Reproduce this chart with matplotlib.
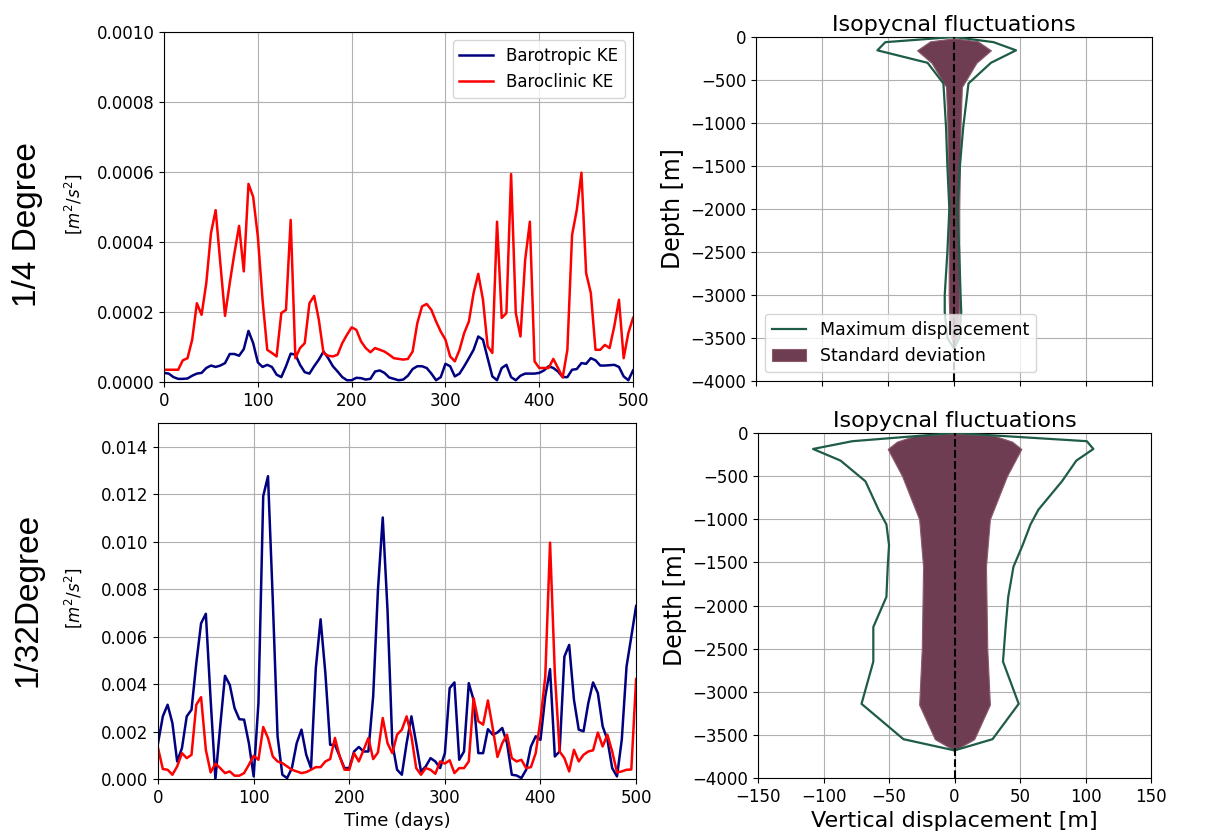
import numpy as np
import matplotlib
matplotlib.use('Agg')
import matplotlib.pyplot as plt

# time axis (days), one sample every 5 days
dias = np.arange(0, 501, 5)

# 1/4 degree run, kinetic energy [x1e-4 m2/s2]
ke_bt_4 = [0.26, 0.24, 0.14, 0.09, 0.09, 0.10, 0.18, 0.24, 0.26, 0.40,
           0.47, 0.43, 0.47, 0.54, 0.80, 0.80, 0.75, 0.94, 1.46, 1.11,
           0.56, 0.43, 0.49, 0.43, 0.21, 0.14, 0.45, 0.81, 0.78, 0.49,
           0.28, 0.24, 0.45, 0.64, 0.87, 0.68, 0.45, 0.30, 0.14, 0.05,
           0.05, 0.12, 0.11, 0.07, 0.09, 0.30, 0.33, 0.26, 0.13, 0.09,
           0.05, 0.07, 0.18, 0.37, 0.45, 0.45, 0.40, 0.24, 0.05, 0.14,
           0.52, 0.45, 0.16, 0.24, 0.45, 0.68, 0.92, 1.30, 1.21, 0.68,
           0.16, 0.05, 0.40, 0.49, 0.14, 0.05, 0.18, 0.24, 0.24, 0.24,
           0.26, 0.33, 0.45, 0.40, 0.30, 0.14, 0.14, 0.35, 0.37, 0.54,
           0.52, 0.68, 0.62, 0.47, 0.47, 0.48, 0.49, 0.43, 0.16, 0.05,
           0.33]
ke_bc_4 = [0.35, 0.35, 0.35, 0.35, 0.62, 0.68, 1.21, 2.25, 1.92, 2.82,
           4.25, 4.91, 3.39, 1.89, 2.82, 3.68, 4.46, 3.16, 5.66, 5.29,
           4.15, 2.35, 0.92, 0.83, 0.73, 1.97, 2.06, 4.63, 0.68, 0.97,
           1.11, 2.25, 2.46, 1.78, 0.83, 0.75, 0.73, 0.78, 1.11, 1.35,
           1.56, 1.49, 1.16, 0.97, 0.85, 0.97, 0.92, 0.87, 0.78, 0.68,
           0.66, 0.64, 0.66, 0.87, 1.68, 2.16, 2.23, 2.06, 1.73, 1.44,
           1.21, 0.73, 0.59, 0.92, 1.40, 1.73, 2.54, 3.09, 2.35, 1.02,
           0.83, 4.58, 1.83, 1.97, 5.94, 1.97, 1.30, 3.49, 4.58, 0.59,
           0.40, 0.40, 0.40, 0.66, 0.40, 0.13, 0.92, 4.20, 4.91, 5.98,
           3.11, 2.54, 0.92, 0.92, 1.06, 0.97, 1.59, 2.35, 0.68, 1.40,
           1.83]

# 1/32 degree run, kinetic energy [x1e-3 m2/s2]
ke_bt_32 = [1.51, 2.64, 3.13, 2.36, 0.74, 1.30, 2.64, 2.92, 4.88, 6.56,
            6.96, 3.34, 0.00, 2.22, 4.35, 3.97, 2.99, 2.52, 2.50, 1.51,
            0.11, 3.20, 11.92, 12.76, 7.55, 1.80, 0.18, 0.04, 0.46, 1.51,
            2.08, 1.02, 0.46, 4.67, 6.73, 4.46, 1.44, 1.44, 0.95, 0.46,
            0.46, 1.16, 1.35, 1.16, 1.16, 3.48, 7.97, 11.02, 7.12, 1.51,
            0.39, 0.18, 1.51, 2.64, 1.51, 0.32, 0.53, 0.88, 0.74, 0.46,
            1.09, 3.83, 4.07, 0.81, 1.16, 4.04, 3.34, 1.09, 1.09, 2.10,
            1.87, 1.96, 2.15, 1.51, 0.18, 0.15, 0.04, 0.39, 1.37, 1.80,
            1.65, 3.48, 4.63, 0.95, 1.16, 5.16, 5.65, 3.34, 2.08, 2.01,
            3.20, 4.07, 3.62, 2.22, 1.65, 0.46, 0.11, 1.65, 4.74, 6.00,
            7.29]
ke_bc_32 = [1.30, 0.42, 0.39, 0.18, 0.53, 1.09, 0.88, 1.02, 3.13, 3.45,
            1.23, 0.28, 0.65, 0.46, 0.25, 0.32, 0.14, 0.14, 0.25, 0.60,
            0.98, 0.81, 2.19, 1.73, 0.95, 0.74, 0.67, 0.53, 0.39, 0.32,
            0.25, 0.29, 0.39, 0.50, 0.50, 0.74, 0.84, 1.73, 0.95, 0.39,
            0.39, 1.09, 0.74, 1.23, 1.73, 0.84, 1.12, 2.57, 1.51, 1.09,
            1.87, 2.08, 2.64, 1.80, 0.46, 0.18, 0.46, 0.39, 0.22, 0.74,
            0.65, 0.79, 0.25, 0.46, 0.46, 0.74, 3.41, 2.43, 2.29, 3.31,
            2.15, 0.93, 1.51, 1.87, 0.88, 0.74, 0.81, 0.46, 0.50, 1.09,
            2.50, 4.32, 9.96, 4.46, 1.16, 0.88, 0.32, 1.23, 0.74, 1.02,
            1.16, 1.21, 1.96, 1.37, 1.87, 1.16, 0.28, 0.32, 0.39, 0.40,
            4.21]

# isopycnal displacement profiles, 1/4 degree
prof_z_4 = [0, -60, -155, -300, -540, -1050, -1500, -2000, -2500, -3000, -3200, -3500, -3620]
max_neg_4 = [0, -52, -58, -20, -8, -6, -5, -3.5, -5, -7, -7, -5, 0]
max_pos_4 = [0, 30, 47, 28, 11, 7, 4.5, 2.5, 4, 5, 5.5, 4, 0]
std_z_4 = [-15, -50, -155, -300, -480, -580, -1000, -2000, -3000, -3300, -3500, -3600]
std_4 = [0, 18, 28, 17, 10, 6, 5, 4, 4, 3.5, 2, 0]

# isopycnal displacement profiles, 1/32 degree
prof_z_32 = [0, -95, -185, -320, -560, -890, -1060, -1300, -1550, -1900, -2250, -2650, -3140, -3550, -3680]
max_neg_32 = [0, -78, -108, -87, -68, -58, -52, -50, -51, -52, -62, -62, -71, -39, 0]
max_pos_32 = [0, 101, 106, 93, 82, 64, 58, 52, 45, 41, 39, 37, 49, 29, 0]
std_z_32 = [-5, -30, -100, -185, -500, -1000, -1550, -2500, -3150, -3550, -3680]
std_32 = [0, 30, 44, 51, 40, 27, 24, 25, 27, 15, 0]

verde = '#1f5c46'
granate = '#6e3d51'

fig = plt.figure(figsize=(12.28, 8.39), dpi=100)

ax1 = fig.add_axes([0.1336, 0.5447, 0.3819, 0.4172])
ax2 = fig.add_axes([0.1287, 0.0715, 0.3893, 0.4243])
ax3 = fig.add_axes([0.6156, 0.5459, 0.3225, 0.4100])
ax4 = fig.add_axes([0.6173, 0.0727, 0.3200, 0.4112])

# --- energia cinetica ---
ax1.plot(dias, np.array(ke_bt_4) * 1e-4, color='navy', lw=1.8, label='Barotropic KE')
ax1.plot(dias, np.array(ke_bc_4) * 1e-4, color='red', lw=1.8, label='Baroclinic KE')
ax1.set_xlim(0, 500)
ax1.set_ylim(0, 0.001)
ax1.set_yticks(np.arange(0, 0.00101, 0.0002))
ax1.set_yticklabels(['0.0000', '0.0002', '0.0004', '0.0006', '0.0008', '0.0010'])
ax1.grid(True)
ax1.legend(loc='upper right', fontsize=12)
ax1.tick_params(labelsize=12)

ax2.plot(dias, np.array(ke_bt_32) * 1e-3, color='navy', lw=1.8)
ax2.plot(dias, np.array(ke_bc_32) * 1e-3, color='red', lw=1.8)
ax2.set_xlim(0, 500)
ax2.set_ylim(0, 0.015)
ax2.set_yticks(np.arange(0, 0.0141, 0.002))
ax2.set_yticklabels(['0.000', '0.002', '0.004', '0.006', '0.008', '0.010', '0.012', '0.014'])
ax2.grid(True)
ax2.set_xlabel('Time (days)', fontsize=13)
ax2.tick_params(labelsize=12)

fig.text(73 / 1228, 1 - 204 / 839, r'$[m^2/s^2]$', rotation=90, ha='center', va='center', fontsize=12)
fig.text(73 / 1228, 1 - 598 / 839, r'$[m^2/s^2]$', rotation=90, ha='center', va='center', fontsize=12)
fig.text(28 / 1228, 1 - 225 / 839, '1/4 Degree', rotation=90, ha='center', va='center',
         fontsize=24, family=['Liberation Sans', 'DejaVu Sans'])
fig.text(28 / 1228, 1 - 600 / 839, '1/32Degree', rotation=90, ha='center', va='center',
         fontsize=24, family=['Liberation Sans', 'DejaVu Sans'])

# --- fluctuaciones isopicnas ---
for ax, zp, mn, mx, zs, sd in [(ax3, prof_z_4, max_neg_4, max_pos_4, std_z_4, std_4),
                               (ax4, prof_z_32, max_neg_32, max_pos_32, std_z_32, std_32)]:
    sd = np.array(sd)
    ax.plot(mn, zp, color=verde, lw=1.6, label='Maximum displacement', zorder=3)
    ax.plot(mx, zp, color=verde, lw=1.6, zorder=3)
    ax.fill_betweenx(zs, -sd, sd, facecolor=granate, edgecolor='#8c5c6e', lw=0.8,
                     label='Standard deviation', zorder=2)
    ax.axvline(0, color='k', ls='--', lw=1.5, zorder=4)
    ax.set_xlim(-150, 150)
    ax.set_ylim(-4000, 0)
    ax.set_xticks([-150, -100, -50, 0, 50, 100, 150])
    ax.set_yticks(np.arange(-4000, 1, 500))
    ax.grid(True)
    ax.set_title('Isopycnal fluctuations', fontsize=16, pad=4)
    ax.set_ylabel('Depth [m]', fontsize=17)
    ax.tick_params(labelsize=12)

ax3.set_xticklabels([])
ax3.legend(loc='lower left', fontsize=12.5)
ax4.set_xlabel('Vertical displacement [m]', fontsize=16)

plt.savefig('out.png', dpi=100)
plt.close()
